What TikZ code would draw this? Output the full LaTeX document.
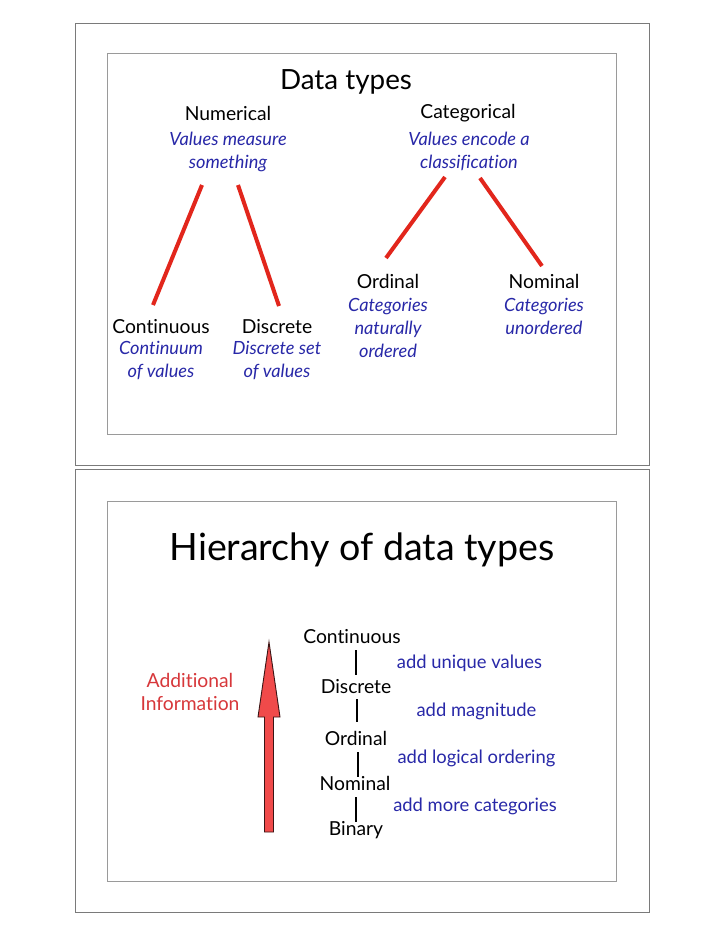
\documentclass[tikz,border=0pt]{standalone}
\usepackage{fontspec}
\setmainfont{Lato}[Ligatures={NoCommon}]
\usetikzlibrary{calc}
\definecolor{framegray}{HTML}{7A7A7A}
\definecolor{innergray}{HTML}{9A9A9A}
\definecolor{noteblue}{HTML}{2828A8}
\definecolor{linkred}{HTML}{E2261C}
\definecolor{infored}{HTML}{D7373A}
\definecolor{arrowfill}{HTML}{F04A4A}
\definecolor{arrowedge}{HTML}{3A1515}
\tikzset{
  outerframe/.style={draw=framegray, line width=1pt},
  innerframe/.style={draw=innergray, line width=1pt},
  bigtitle/.style={font=\fontsize{27.8}{30}\selectfont, inner sep=0pt},
  hugetitle/.style={font=\fontsize{37.6}{40}\selectfont, inner sep=0pt},
  typename/.style={font=\fontsize{19.3}{23}\selectfont, inner sep=0pt},
  typenote/.style={font=\fontsize{18.2}{23}\selectfont\itshape, text=noteblue, align=center, inner sep=0pt},
  stepnote/.style={font=\fontsize{18.4}{23}\selectfont, text=noteblue, inner sep=0pt},
  redlink/.style={draw=linkred, line width=4pt},
  rung/.style={draw=black, line width=1.3pt},
}
\begin{document}
\begin{tikzpicture}[x=1pt,y=-1pt]
\useasboundingbox[fill=white] (0,0) rectangle (723,935);

% ---------- panel 1: data types ----------
\draw[outerframe] (75,23) rectangle (649,465);
\draw[innerframe] (107,53) rectangle (616,434);

\node[bigtitle] (title1) at (346,82) {Data types};

\node[typename] (num) at (228,113) {Numerical};
\node[typenote] (numd) at (228,151.5) {Values measure\\something};
\node[typename] (cat) at (468,113) {Categorical};
\node[typenote] (catd) at (469,151.5) {Values encode a\\classification};

\node[typename] (cont) at (161,327) {Continuous};
\node[typenote] (contd) at (161,360.5) {Continuum\\of values};
\node[typename] (disc) at (277,327) {Discrete};
\node[typenote] (discd) at (277,360.5) {Discrete set\\of values};

\node[typename] (ord) at (388,281) {Ordinal};
\node[typenote] (ordd) at (388,327.5) {Categories\\naturally\\ordered};
\node[typename] (nom) at (544,281) {Nominal};
\node[typenote] (nomd) at (544,316) {Categories\\unordered};

\draw[redlink] ($(num)+(-26,72)$) -- ($(cont)+(-8,-22)$);
\draw[redlink] ($(num)+(10,72)$) -- ($(disc)+(2,-21)$);
\draw[redlink] ($(cat)+(-23,64)$) -- ($(ord)+(-2,-23)$);
\draw[redlink] ($(cat)+(12,65)$) -- ($(nom)+(-2,-15)$);

% ---------- panel 2: hierarchy ----------
\draw[outerframe] (75,469) rectangle (649,912);
\draw[innerframe] (107,501) rectangle (616,881);

\node[hugetitle] (title2) at (362,550) {Hierarchy of data types};

% upward arrow of added information
\draw[fill=arrowfill, draw=arrowedge, line width=0.9pt, line join=miter]
  (269,642) -- (280,717) -- (273.5,717) -- (273.5,832) -- (264.5,832)
  -- (264.5,717) -- (258,717) -- cycle;
\node[typename, text=infored, align=center] (info) at (190,691.5) {Additional\\Information};

\node[typename] (h1) at (352,637) {Continuous};
\node[typename] (h2) at (356,687) {Discrete};
\node[typename] (h3) at (356,738) {Ordinal};
\node[typename] (h4) at (355,783) {Nominal};
\node[typename] (h5) at (356,830) {Binary};

\draw[rung] ($(h2)+(0,-37)$) -- ($(h2)+(0,-12)$);
\draw[rung] ($(h2)+(1,12)$) -- ($(h3)+(1,-16)$);
\draw[rung] ($(h3)+(2,14)$) -- ($(h4)+(3,-6)$);
\draw[rung] ($(h4)+(1,14)$) -- ($(h5)+(0,-8)$);

\node[stepnote] (s1) at (469.5,663) {add unique values};
\node[stepnote] (s2) at (476.5,711) {add magnitude};
\node[stepnote] (s3) at (476.5,758) {add logical ordering};
\node[stepnote] (s4) at (475,806) {add more categories};
\end{tikzpicture}
\end{document}
